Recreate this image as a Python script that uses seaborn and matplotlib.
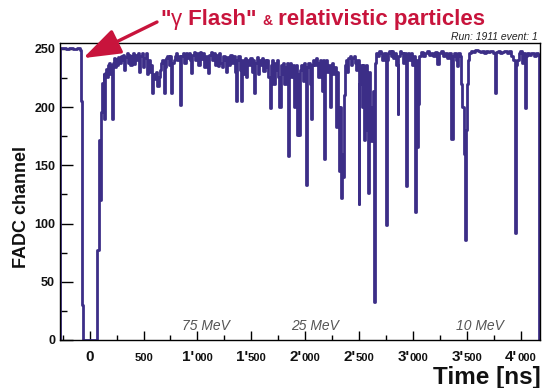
import matplotlib
matplotlib.use("Agg")
import matplotlib.pyplot as plt
from matplotlib.transforms import IdentityTransform
from matplotlib.ticker import MultipleLocator, NullFormatter
import seaborn as sns
import pandas as pd

sns.set_theme(style="white")
plt.rcParams['font.family'] = ['Liberation Sans', 'DejaVu Sans']

# ---------------- data ----------------
time_ns = [
    -275, -271, -230, -220, -190, -150, -120, -86, -80, -76, -68, -60,
    72, 84, 90, 98, 102, 108, 116, 124, 130, 138, 144, 152, 160, 168, 176, 184,
    192, 200, 208, 216, 226, 236, 246, 256, 266, 276, 290, 300, 312, 322, 332,
    344, 356, 366, 378, 390, 400, 414, 424, 436, 448, 460, 470, 484, 496, 508,
    520, 534, 544, 556, 570, 582, 592, 604, 616, 628, 640, 652, 664, 676, 688,
    698, 710, 722, 734, 746, 758, 768, 780, 790, 800, 810, 826, 840, 850, 864,
    878, 890, 904, 918, 932, 944, 954, 966, 980, 994, 1010, 1022, 1036, 1050,
    1064, 1076, 1088, 1100, 1110, 1124, 1136, 1150, 1164, 1176, 1190, 1202,
    1214, 1226, 1238, 1252, 1266, 1278, 1292, 1306, 1320, 1334, 1348, 1358,
    1368, 1380, 1394, 1406, 1416, 1428, 1440, 1452, 1464, 1476, 1490, 1504,
    1516, 1528, 1538, 1550, 1562, 1574, 1588, 1600, 1612, 1624, 1636, 1648,
    1660, 1670, 1680, 1692, 1704, 1716, 1728, 1740, 1752, 1762, 1772, 1784,
    1796, 1808, 1818, 1830, 1840, 1848, 1860, 1872, 1884, 1896, 1906, 1916,
    1926, 1934, 1944, 1954, 1966, 1978, 1990, 2002, 2010, 2018, 2030, 2042,
    2054, 2062, 2074, 2086, 2098, 2110, 2122, 2134, 2146, 2158, 2168, 2174,
    2182, 2194, 2206, 2218, 2228, 2236, 2248, 2260, 2272, 2284, 2292, 2302,
    2310, 2318, 2326, 2334, 2342, 2350, 2358, 2366, 2378, 2390, 2402, 2414,
    2426, 2438, 2450, 2462, 2474, 2486, 2496, 2504, 2516, 2528, 2536, 2546,
    2556, 2566, 2576, 2586, 2596, 2606, 2616, 2626, 2640, 2650, 2662, 2676,
    2690, 2704, 2716, 2730, 2748, 2758, 2770, 2782, 2794, 2806, 2818, 2830,
    2846, 2858, 2866, 2878, 2890, 2904, 2918, 2932, 2942, 2954, 2966, 2980,
    2994, 3006, 3018, 3028, 3040, 3050, 3060, 3072, 3090, 3110, 3130, 3150,
    3170, 3190, 3210, 3226, 3240, 3260, 3280, 3300, 3320, 3340, 3358, 3368,
    3380, 3396, 3410, 3420, 3434, 3450, 3460, 3470, 3480, 3490, 3500, 3510,
    3520, 3540, 3560, 3580, 3600, 3620, 3640, 3660, 3680, 3700, 3720, 3740,
    3760, 3770, 3790, 3810, 3830, 3850, 3870, 3890, 3910, 3930, 3946, 3956,
    3970, 3984, 3998, 4012, 4024, 4038, 4046, 4060, 4080, 4100, 4120, 4140,
    4160, 4174, 4180,
]
adc = [
    0, 251, 251, 250, 251, 250, 251, 249, 232, 205, 30, 0,
    77, 140, 172, 120, 172, 196, 221, 200, 228, 190, 229, 233, 226, 236, 232, 238,
    228, 236, 190, 238, 242, 234, 241, 236, 243, 238, 244, 240, 245, 232, 243,
    246, 238, 245, 236, 244, 246, 237, 245, 240, 246, 230, 244, 246, 234, 242,
    246, 228, 240, 230, 236, 212, 228, 224, 230, 218, 226, 232, 238, 240, 212,
    234, 242, 244, 236, 244, 212, 238, 240, 244, 246, 240, 244, 202, 244, 246,
    238, 246, 242, 246, 240, 229, 245, 247, 240, 246, 236, 247, 241, 246,
    234, 244, 238, 229, 245, 247, 240, 246, 236, 245, 235, 246,
    238, 234, 244, 240, 230, 243, 236, 245, 238, 244, 230, 205,
    240, 244, 232, 205, 240, 228, 242, 226, 240, 236, 242, 230,
    240, 212, 238, 243, 228, 240, 236, 242, 231, 240, 234, 240,
    226, 199, 236, 240, 220, 238, 232, 240, 226, 200, 236, 228,
    238, 220, 234, 238, 158, 230, 238, 226, 236, 200, 232, 236,
    176, 228, 176, 232, 236, 222, 238, 230, 133, 234, 238, 220,
    190, 236, 240, 236, 242, 238, 226, 240, 236, 214, 240, 155,
    232, 240, 230, 236, 200, 232, 238, 228, 234, 183, 230, 200,
    170, 145, 200, 122, 160, 140, 210, 236, 240, 230, 242, 244,
    236, 242, 244, 238, 232, 240, 117, 220, 236, 200, 236, 172,
    200, 236, 180, 126, 230, 200, 171, 214, 33, 238, 246, 244,
    248, 246, 240, 246, 99, 240, 246, 248, 244, 248, 242, 246,
    236, 194, 244, 248, 246, 238, 246, 132, 242, 246, 240, 246,
    236, 244, 110, 240, 166, 203, 244, 247, 244, 246, 248, 245,
    246, 244, 247, 237, 246, 248, 244, 246, 242, 246, 173, 244,
    246, 240, 235, 246, 244, 220, 200, 160, 86, 180, 220, 240,
    246, 248, 247, 249, 248, 247, 248, 246, 248, 247, 248, 246,
    212, 247, 248, 246, 247, 248, 246, 248, 244, 240, 92, 236,
    240, 246, 248, 238, 246, 199, 244, 246, 245, 246, 244, 246,
    245, 0, 0,
]
tick_values = [0, 500, 1000, 1500, 2000, 2500, 3000, 3500, 4000]
tick_big = ["0", "", "1'", "1'", "2'", "2'", "3'", "3'", "4'"]
tick_small = ["", "500", "000", "500", "000", "500", "000", "500", "000"]
energy_labels = ["75 MeV", "25 MeV", "10 MeV"]
energy_pos = [1078, 2092, 3618]
title_parts = ['"', 'γ', ' Flash"', ' ', '&', ' relativistic particles']

# ---------------- styling ----------------
LINE = "#3c2e87"
RED = "#c8143c"
W, H = 543, 388

fig = plt.figure(figsize=(W / 100, H / 100), dpi=100)
ax = fig.add_axes([60 / W, 48 / H, 480 / W, 297 / H])

df = pd.DataFrame({"t": time_ns, "adc": adc})
sns.lineplot(data=df, x="t", y="adc", ax=ax, estimator=None, sort=False,
             drawstyle="steps-post", color=LINE, linewidth=2.0)

ax.set_xlim(-275, 4180)
ax.set_ylim(0, 255)
ax.set_xlabel("")
ax.set_ylabel("")

for s in ax.spines.values():
    s.set_color("black")
    s.set_linewidth(1.0)
    s.set_visible(True)

ax.xaxis.set_major_locator(MultipleLocator(500))
ax.xaxis.set_minor_locator(MultipleLocator(250))
ax.yaxis.set_major_locator(MultipleLocator(50))
ax.yaxis.set_minor_locator(MultipleLocator(25))
ax.xaxis.set_major_formatter(NullFormatter())
ax.tick_params(axis="x", which="both", direction="in", bottom=True, top=False,
               colors="black")
ax.tick_params(axis="x", which="major", length=6.5, width=1.0)
ax.tick_params(axis="x", which="minor", length=3.3, width=1.0)
ax.tick_params(axis="y", which="both", direction="in", left=True, right=False,
               colors="black")
ax.tick_params(axis="y", which="major", length=9, width=1.0, pad=3.5,
               labelsize=9)
ax.tick_params(axis="y", which="minor", length=5, width=1.0)
for lab in ax.get_yticklabels():
    lab.set_fontweight("bold")
    lab.set_color("#111111")

fig.canvas.draw()
renderer = fig.canvas.get_renderer()

# x tick labels with mixed sizes
for v, big, small in zip(tick_values, tick_big, tick_small):
    parts = []
    if big:
        parts.append(ax.annotate(big, xy=(v, 0), xycoords=("data", "axes fraction"),
                                 xytext=(0, -21), textcoords="offset pixels",
                                 ha="left", va="baseline", fontsize=11,
                                 fontweight="bold", color="#111111",
                                 annotation_clip=False))
    if small:
        parts.append(ax.annotate(small, xy=(v, 0), xycoords=("data", "axes fraction"),
                                 xytext=(0, -21), textcoords="offset pixels",
                                 ha="left", va="baseline", fontsize=8,
                                 fontweight="bold", color="#111111",
                                 annotation_clip=False))
    widths = [p.get_window_extent(renderer).width for p in parts]
    x0 = -sum(widths) / 2
    for p, w in zip(parts, widths):
        p.xyann = (x0, -21)
        x0 += w

# energy markers
for lab, pos in zip(energy_labels, energy_pos):
    ax.text(pos, 8.5, lab, ha="center", va="baseline", fontsize=10,
            fontstyle="italic", color="#555555")

# axis titles
fig.text(22 / W, 1 - 207 / H, "FADC channel", rotation=90, ha="center",
         va="center", fontsize=13, fontweight="bold", color="#111111")
fig.text(541 / W, 4 / H, "Time [ns]", ha="right", va="baseline",
         fontsize=17.5, fontweight="bold", color="#111111")

# run info
fig.text(538 / W, (H - 40) / H, "Run: 1911 event: 1", ha="right", va="baseline",
         fontsize=7.5, fontstyle="italic", color="#222222")

# red title, chained pieces
sizes = [16, 16, 16, 16, 10, 16]
weights = ["bold", "normal", "bold", "bold", "bold", "bold"]
xpos = 160
for txt, sz, wt in zip(title_parts, sizes, weights):
    t = fig.text(xpos, H - 25, txt, transform=IdentityTransform(), ha="left",
                 va="baseline", fontsize=sz, fontweight=wt, color=RED)
    xpos += t.get_window_extent(renderer).width

# arrow pointing at gamma flash
ax.annotate("", xy=(-60, 242), xycoords="data", xytext=(157, H - 22),
            textcoords="figure pixels",
            arrowprops=dict(arrowstyle="-|>,head_length=1.15,head_width=0.4",
                            color=RED, lw=2.4, mutation_scale=20,
                            shrinkA=0, shrinkB=0),
            annotation_clip=False)

fig.savefig("out.png", dpi=100)
